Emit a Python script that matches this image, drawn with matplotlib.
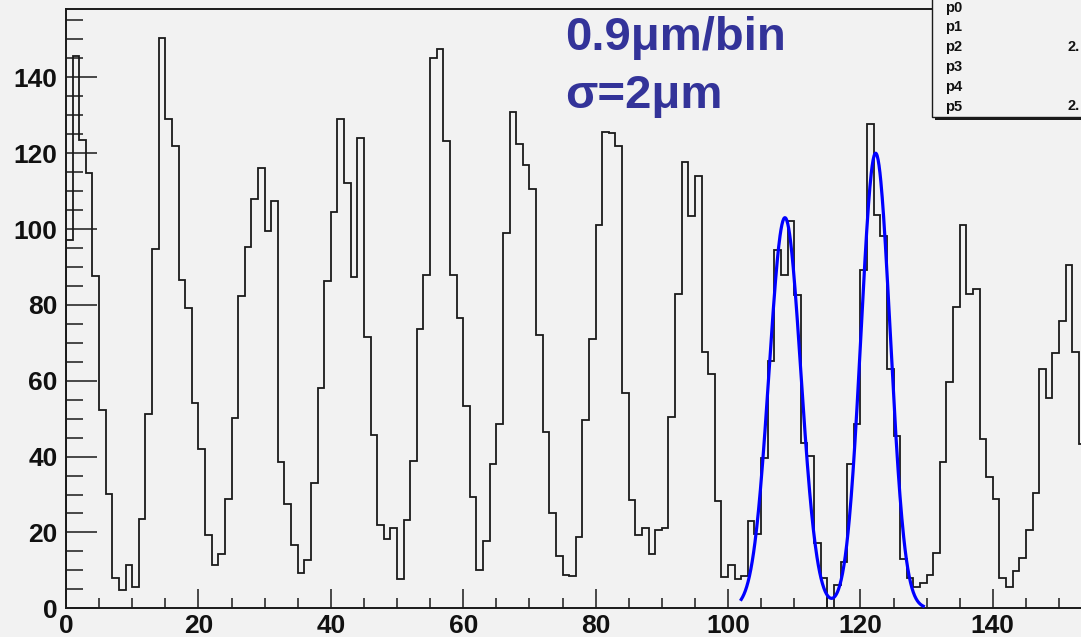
import numpy as np
import matplotlib
matplotlib.use("Agg")
import matplotlib.pyplot as plt
from matplotlib.patches import Rectangle
from matplotlib.ticker import MultipleLocator

# Histogram contents, one entry per unit-wide bin starting at 0
counts = [
    97.2, 145.7, 123.5, 114.8, 87.5, 52.2, 30.1, 8.1, 4.7, 11.5,
    5.5, 23.6, 51.2, 94.7, 150.5, 129.0, 121.9, 86.6, 79.1, 54.2,
    41.9, 19.4, 11.4, 14.4, 28.7, 50.1, 82.4, 95.3, 108.0, 116.0,
    99.6, 107.5, 38.5, 27.5, 16.8, 9.2, 12.8, 33.0, 58.1, 86.3,
    104.5, 129.0, 112.2, 87.4, 124.0, 71.6, 45.6, 22.0, 18.2, 21.2,
    7.7, 23.2, 38.9, 73.6, 87.9, 145.1, 147.5, 123.2, 87.9, 76.5,
    53.3, 29.4, 10.2, 17.7, 38.0, 48.7, 99.0, 130.8, 122.4, 116.9,
    110.5, 72.0, 46.5, 25.2, 13.9, 8.7, 8.4, 18.7, 49.7, 71.0,
    101.1, 125.6, 125.3, 121.8, 56.7, 28.6, 19.2, 21.2, 14.4, 20.7,
    21.2, 50.4, 83.0, 117.6, 103.5, 113.9, 67.6, 61.9, 28.2, 8.2,
    11.4, 7.8, 8.6, 23.0, 19.7, 39.7, 65.2, 94.4, 88.0, 102.2,
    82.5, 43.5, 40.2, 17.2, 8.0, 0.0, 6.2, 12.2, 38.0, 48.7,
    89.2, 127.8, 103.7, 98.2, 63.2, 45.5, 13.1, 8.0, 5.5, 6.6,
    8.7, 14.7, 38.7, 59.7, 79.5, 101.2, 83.0, 84.2, 44.7, 34.5,
    28.7, 8.0, 5.5, 9.9, 13.2, 20.7, 30.5, 63.2, 55.5, 67.2,
    75.7, 90.4, 67.7, 43.2,
]
x_max = 160
x_tick_values = [0, 20, 40, 60, 80, 100, 120, 140]

# Double-Gaussian fit: p0..p2 first peak, p3..p5 second peak
param_names = ["p0", "p1", "p2", "p3", "p4", "p5"]
fit_params = [103.0, 108.6, 2.4, 120.0, 122.3, 2.2]
fit_range = (102.0, 129.5)

annotation_lines = ["0.9\u03bcm/bin", "\u03c3=2\u03bcm"]

W, H = 1081, 637
BG = "#f2f2f2"
INK = "#1a1a1a"
FONT = "Liberation Sans"

plt.rcParams["font.family"] = [FONT, "DejaVu Sans"]

fig = plt.figure(figsize=(W / 100, H / 100), dpi=100, facecolor=BG)


def fx(px):
    return px / W


def fy(py):
    return 1 - py / H


x0_px, y0_px, ytop_px, px_per_unit = 66.0, 608.3, 9.0, 6.62
ax = fig.add_axes([fx(x0_px), fy(y0_px), x_max * px_per_unit / W,
                   (y0_px - ytop_px) / H])
ax.set_facecolor(BG)

edges = np.arange(len(counts) + 1)
ax.stairs(counts, edges, baseline=0, color=INK, lw=1.3, zorder=3)


def double_gauss(x, p):
    return (p[0] * np.exp(-0.5 * ((x - p[1]) / p[2]) ** 2)
            + p[3] * np.exp(-0.5 * ((x - p[4]) / p[5]) ** 2))


xf = np.linspace(fit_range[0], fit_range[1], 400)
ax.plot(xf, double_gauss(xf, fit_params), color="#0000ff", lw=2.3, zorder=4)

ax.set_xlim(0, x_max)
ax.set_ylim(0, 1.05 * max(counts))

ax.set_xticks(x_tick_values)
ax.xaxis.set_minor_locator(MultipleLocator(5))
ax.yaxis.set_major_locator(MultipleLocator(20))
ax.yaxis.set_minor_locator(MultipleLocator(5))

ax.tick_params(axis="both", which="both", direction="in", colors=INK,
               width=1.1, labelsize=19)
ax.tick_params(axis="y", which="major", length=22, pad=6)
ax.tick_params(axis="y", which="minor", length=12)
ax.tick_params(axis="x", which="major", length=13.5, pad=4)
ax.tick_params(axis="x", which="minor", length=7)
ax.tick_params(top=False, right=False)
for lab in ax.get_xticklabels() + ax.get_yticklabels():
    lab.set_fontweight("bold")
    lab.set_color("#111111")

for side in ("left", "bottom", "top"):
    ax.spines[side].set_color(INK)
    ax.spines[side].set_linewidth(1.4)
ax.spines["right"].set_visible(False)

# Annotation in the upper middle
for text, ypx in zip(annotation_lines, (50, 108)):
    fig.text(fx(565), fy(ypx), text, color="#333399", fontsize=34,
             fontweight="bold", ha="left", va="baseline")

# Fit statistics box
box_l, box_b = 932, 117
shadow = Rectangle((fx(box_l + 3), fy(box_b + 3)), fx(W + 20 - box_l),
                   (box_b + 3 + 20) / H, transform=fig.transFigure,
                   facecolor=INK, edgecolor="none", zorder=5)
box = Rectangle((fx(box_l), fy(box_b)), fx(W + 20 - box_l),
                (box_b + 20) / H, transform=fig.transFigure,
                facecolor=BG, edgecolor=INK, lw=1.0, zorder=6)
fig.patches.extend([shadow, box])

row_y = [8, 27.5, 47, 67, 87, 106.5]
for name, ypx in zip(param_names, row_y):
    fig.text(fx(945), fy(ypx), name, fontsize=10.5, fontweight="bold",
             color="#111111", ha="left", va="center", zorder=7)
# Only the leading digits of the sigma values fit inside the frame
for idx, xpx in ((2, 1067), (5, 1068)):
    fig.text(fx(xpx), fy(row_y[idx]), f"{int(fit_params[idx])}.",
             fontsize=10.5, fontweight="bold", color="#111111",
             ha="left", va="center", zorder=7)

fig.savefig("out.png", dpi=100, facecolor=BG)
